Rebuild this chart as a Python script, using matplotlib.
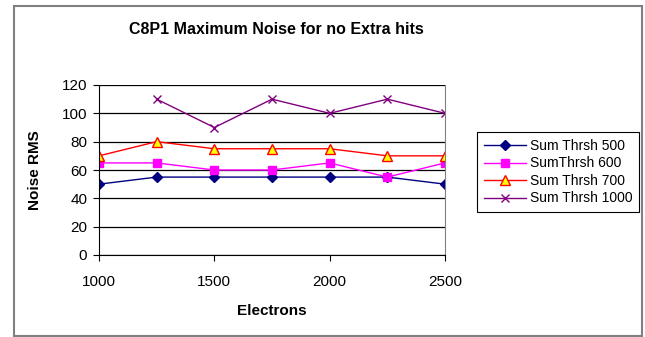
import matplotlib
matplotlib.use("Agg")
import matplotlib.pyplot as plt
from matplotlib.patches import Rectangle

plt.rcParams['font.family'] = ['Liberation Sans', 'DejaVu Sans']

electrons = [1000, 1250, 1500, 1750, 2000, 2250, 2500]
thr_500 = [50, 55, 55, 55, 55, 55, 50]
thr_600 = [65, 65, 60, 60, 65, 55, 65]
thr_700 = [70, 80, 75, 75, 75, 70, 70]
thr_1000 = [None, 110, 90, 110, 100, 110, 100]

x_ticks = [1000, 1500, 2000, 2500]
y_ticks = [0, 20, 40, 60, 80, 100, 120]

W, H = 645, 337
fig = plt.figure(figsize=(W / 100, H / 100), dpi=100)
ax = fig.add_axes([99 / W, 1 - 255 / H, (445 - 99) / W, (255 - 85) / H])

# outer chart border
fig.patches.append(Rectangle((14 / W, 1 - 336 / H), (642 - 14) / W, (336 - 6) / H,
                             transform=fig.transFigure, fill=False,
                             edgecolor='#808080', linewidth=1.5))

ax.plot(electrons, thr_500, color='#000080', marker='D', markersize=5,
        linewidth=1, label='Sum Thrsh 500')
ax.plot(electrons, thr_600, color='#FF00FF', marker='s', markersize=6,
        linewidth=1, label='SumThrsh 600')
ax.plot(electrons, thr_700, color='#FF0000', marker='^', markersize=7,
        markerfacecolor='#FFFF00', markeredgecolor='#FF0000', linewidth=1,
        label='Sum Thrsh 700')
x4 = [e for e, v in zip(electrons, thr_1000) if v is not None]
y4 = [v for v in thr_1000 if v is not None]
ax.plot(x4, y4, color='#800080', marker='x', markersize=6, linewidth=1,
        label='Sum Thrsh 1000')

ax.set_xlim(1000, 2500)
ax.set_ylim(0, 120)
ax.set_xticks(x_ticks)
ax.set_yticks(y_ticks)
ax.yaxis.grid(True, color='black', linewidth=0.9)
ax.set_axisbelow(True)
ax.tick_params(axis='both', direction='out', length=4.5, width=0.8,
               labelsize=11, colors='black', pad=4)
ax.tick_params(axis='x', pad=10)

ax.spines['right'].set_color('#808080')
ax.spines['top'].set_visible(False)
ax.spines['left'].set_color('black')
ax.spines['bottom'].set_color('black')

ax.set_xlabel('Electrons', fontsize=11, fontweight='bold', labelpad=11)
ax.set_ylabel('Noise RMS', fontsize=11, fontweight='bold', labelpad=14)
fig.text(276 / W, 1 - 30 / H, 'C8P1 Maximum Noise for no Extra hits',
         ha='center', va='center', fontsize=11.5, fontweight='bold')

leg = ax.legend(loc='upper left', bbox_to_anchor=(477 / W, 1 - 132 / H),
                bbox_transform=fig.transFigure, borderaxespad=0,
                fancybox=False, framealpha=1, edgecolor='black',
                fontsize=10, handlelength=3, labelspacing=0.25,
                borderpad=0.5, handletextpad=0.3)
leg.get_frame().set_linewidth(0.8)

fig.savefig('out.png', dpi=100)
